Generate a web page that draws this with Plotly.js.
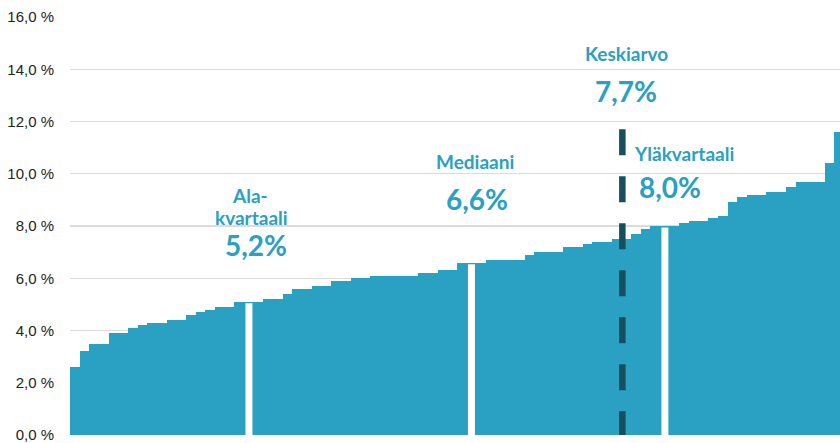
<!DOCTYPE html>
<html>
<head>
<meta charset="utf-8">
<script src="https://cdn.plot.ly/plotly-3.0.1.min.js"></script>
<style>html,body{margin:0;padding:0;background:#fff;}#chart{width:840px;height:443px;}</style>
</head>
<body>
<div id="chart"></div>
<script>
// Sorted values (%), one bar each
const values = [
  2.6, 3.2, 3.5, 3.5, 3.9, 3.9, 4.1, 4.2, 4.3, 4.3,
  4.4, 4.4, 4.6, 4.7, 4.8, 4.9, 4.9, 5.1, 5.1, 5.1,
  5.2, 5.2, 5.4, 5.6, 5.6, 5.7, 5.7, 5.9, 5.9, 6.0,
  6.0, 6.1, 6.1, 6.1, 6.1, 6.1, 6.2, 6.2, 6.3, 6.3,
  6.6, 6.6, 6.6, 6.7, 6.7, 6.7, 6.7, 6.9, 7.0, 7.0,
  7.0, 7.2, 7.2, 7.3, 7.4, 7.4, 7.5, 7.5, 7.7, 7.9,
  8.0, 8.0, 8.0, 8.1, 8.2, 8.2, 8.3, 8.4, 8.9, 9.1,
  9.2, 9.2, 9.3, 9.3, 9.5, 9.7, 9.7, 9.7, 10.4, 11.6
];
const positions = values.map((v, i) => i);

// Marker bars (white separators) at quartiles / median
const markerIndices = [18, 41, 61];
// Mean position on the category axis and height of the dashed line
const meanPosition = 56.6;
const meanLineTop = 11.7;

// Label texts
const labelNames = ["Ala-", "kvartaali", "Mediaani", "Keskiarvo", "Yläkvartaali"];
const labelValues = ["5,2%", "6,6%", "7,7%", "8,0%"];

const yTicks = [0, 2, 4, 6, 8, 10, 12, 14, 16];
const yTickLabels = ["0,0 %", "2,0 %", "4,0 %", "6,0 %", "8,0 %", "10,0 %", "12,0 %", "14,0 %", "16,0 %"];

const BLUE = "#2aa0c2";
const DARK = "#174f5f";

// Pixel helpers for layout decorations (plot area 70..840 x 17..435)
const W = 840, H = 443, L = 70, T = 17, B = 8, R = 0;
const px = x => (x - L) / (W - L - R);
const py = y => (H - B - y) / (H - T - B);

const shapes = [];
// White boxes behind labels (above gridlines, below bars)
[[203, 300, 183, 262], [434, 523, 148, 214], [582, 700, 42, 106], [633, 719, 140, 205]].forEach(b => {
  shapes.push({type: "rect", xref: "paper", yref: "paper", layer: "between",
    x0: px(b[0]), x1: px(b[1]), y0: py(b[3]), y1: py(b[2]),
    fillcolor: "#ffffff", line: {width: 0}});
});
markerIndices.forEach(i => {
  shapes.push({type: "rect", xref: "x", yref: "y", layer: "above",
    x0: positions[i] - 0.36, x1: positions[i] + 0.36, y0: 0, y1: values[i] - 0.06,
    fillcolor: "#ffffff", line: {width: 0}});
});
shapes.push({type: "line", xref: "x", yref: "y", layer: "above",
  x0: meanPosition, x1: meanPosition, y0: meanLineTop, y1: 0,
  line: {color: DARK, width: 6.5, dash: "26px,21px"}});

const font = "Lato, 'Open Sans', sans-serif";
function ann(text, cx, cy, size) {
  return {text: text, xref: "paper", yref: "paper", x: px(cx), y: py(cy),
    xanchor: "center", yanchor: "middle", showarrow: false,
    font: {family: font, size: size, color: BLUE, weight: 700}};
}
const annotations = [
  ann("<b>" + labelNames[0] + "</b>", 250, 196, 19),
  ann("<b>" + labelNames[1] + "</b>", 251, 217, 19),
  ann("<b>" + labelValues[0] + "</b>", 256, 245, 28),
  ann("<b>" + labelNames[2] + "</b>", 475, 161, 19),
  ann("<b>" + labelValues[1] + "</b>", 477, 199, 28),
  ann("<b>" + labelNames[3] + "</b>", 626, 54, 19),
  ann("<b>" + labelValues[2] + "</b>", 626, 91, 28),
  ann("<b>" + labelNames[4] + "</b>", 684, 153, 19),
  ann("<b>" + labelValues[3] + "</b>", 670, 187, 28)
];

const trace = {
  type: "bar", x: positions, y: values,
  marker: {color: BLUE, line: {width: 0}},
  hoverinfo: "skip"
};

const layout = {
  width: W, height: H,
  margin: {l: L, r: R, t: T, b: B, pad: 0},
  paper_bgcolor: "#ffffff", plot_bgcolor: "#ffffff",
  bargap: 0,
  showlegend: false,
  xaxis: {range: [-0.5, 79.1], showgrid: false, zeroline: false, showline: false,
    showticklabels: false, ticks: "", fixedrange: true},
  yaxis: {range: [0, 16], tickmode: "array", tickvals: yTicks, ticktext: yTickLabels,
    showgrid: true, gridcolor: "#dcdcdc", gridwidth: 1.2, zeroline: false, showline: false,
    ticks: "outside", ticklen: 12, tickcolor: "rgba(0,0,0,0)",
    ticklabeloverflow: "allow",
    tickfont: {family: "'Liberation Sans', Arial, sans-serif", size: 15, color: "#222"},
    fixedrange: true},
  shapes: shapes,
  annotations: annotations
};

Plotly.newPlot("chart", [trace], layout, {displayModeBar: false, staticPlot: true});
</script>
</body>
</html>
